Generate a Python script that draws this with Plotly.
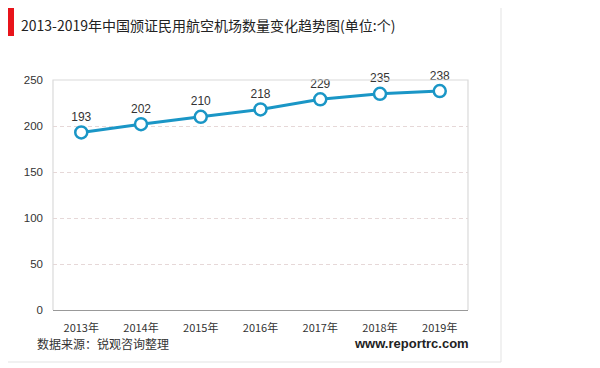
import plotly.graph_objects as go

years = ["2013年", "2014年", "2015年", "2016年", "2017年", "2018年", "2019年"]
airports = [193, 202, 210, 218, 229, 235, 238]
y_ticks = [0, 50, 100, 150, 200, 250]

title_text = "2013-2019年中国颁证民用航空机场数量变化趋势图(单位:个)"
source_text = "数据来源：锐观咨询整理"
site_text = "www.reportrc.com"

# page body has an 8px default margin; work in reference pixel coords and shift
OFF = 8
W, H = 600 - OFF, 368 - OFF
L, R, T, B = 53 - OFF, 468 - OFF, 80 - OFF, 310 - OFF
font_cjk = "Noto Sans CJK SC, Noto Sans, sans-serif"


def px(x):
    return (x - OFF - L) / (R - L)


def py(y):
    return (B - (y - OFF)) / (B - T)


fig = go.Figure()
fig.add_trace(go.Scatter(
    x=years, y=airports, mode="lines+markers+text",
    text=[str(v) for v in airports], textposition="top center",
    textfont=dict(size=12, color="#333333", family="Arial, Liberation Sans, sans-serif"),
    line=dict(color="#1A96C6", width=3),
    marker=dict(size=12, color="white", line=dict(color="#1A96C6", width=2.5)),
    cliponaxis=False, showlegend=False,
))

shapes = [
    dict(type="rect", xref="paper", yref="paper", x0=px(6), x1=px(501), y0=py(5), y1=py(362),
         line=dict(color="#E3E3E3", width=1), layer="below"),
    dict(type="rect", xref="paper", yref="paper", x0=px(6), x1=px(14), y0=py(6), y1=py(36),
         line=dict(width=0), fillcolor="#E8141B"),
    dict(type="path", xref="paper", yref="paper",
         path=f"M {px(53)} {py(310)} L {px(53)} {py(80)} L {px(468)} {py(80)} L {px(468)} {py(310)}",
         line=dict(color="#DADADA", width=1.2)),
]

annotations = [
    dict(text=title_text, xref="paper", yref="paper", x=px(19), y=py(25), xanchor="left", yanchor="middle",
         showarrow=False, font=dict(size=14, color="#222222", family=font_cjk)),
    dict(text=source_text, xref="paper", yref="paper", x=px(35), y=py(343), xanchor="left", yanchor="middle",
         showarrow=False, font=dict(size=12, color="#333333", family=font_cjk)),
    dict(text=f"<b>{site_text}</b>", xref="paper", yref="paper", x=px(471), y=py(343), xanchor="right",
         yanchor="middle", showarrow=False,
         font=dict(size=13, color="#222222", family="Arial, Liberation Sans, sans-serif")),
]

fig.update_layout(
    width=W, height=H,
    margin=dict(l=L, r=W - R, t=T, b=H - B),
    paper_bgcolor="white", plot_bgcolor="white",
    shapes=shapes, annotations=annotations,
    xaxis=dict(showgrid=False, showline=True, linecolor="#999999", linewidth=1.2,
               ticks="", ticklabelstandoff=8,
               tickfont=dict(size=11, color="#333333", family=font_cjk),
               fixedrange=True),
    yaxis=dict(range=[0, 250], tickvals=y_ticks, showgrid=True, gridcolor="#E6D8D8",
               griddash="4px,3px", gridwidth=1, zeroline=False, showline=False, ticks="",
               ticklabelstandoff=9,
               tickfont=dict(size=11.5, color="#333333", family="Arial, Liberation Sans, sans-serif"),
               fixedrange=True),
)

fig.write_html("out.html")
